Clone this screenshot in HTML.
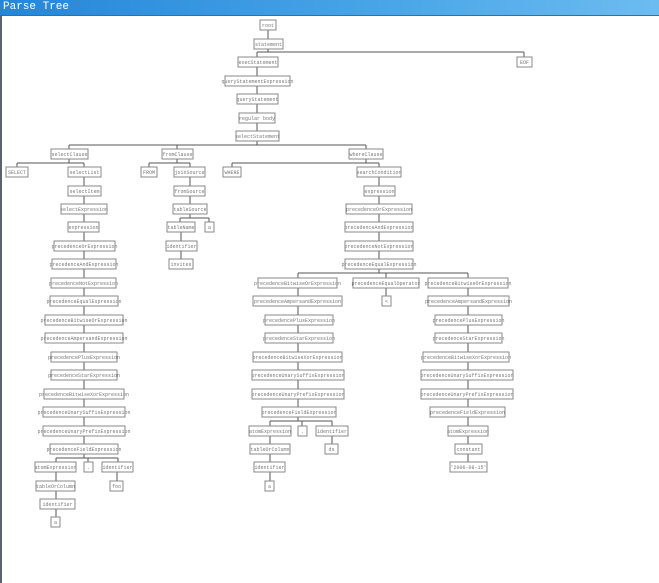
<!DOCTYPE html>
<html><head><meta charset="utf-8"><style>
html,body{margin:0;padding:0;width:659px;height:583px;overflow:hidden;background:#fff}
#t{position:absolute;left:0;top:0;width:659px;height:15px;background:linear-gradient(90deg,#2586d8,#4aa6e8 60%,#6cbcf0);border-bottom:1px solid #3a6f9a}
#t span{position:absolute;left:3px;top:1px;color:#fff;font:11px "Liberation Mono",monospace}
#lb{position:absolute;left:0;top:16px;width:2px;height:567px;background:#5a6470}
svg{position:absolute;left:0;top:0}
rect{fill:#fff;stroke:#888;stroke-width:1}
text{font-family:"Liberation Mono",monospace;font-size:5px;fill:#777;text-anchor:middle}
line{stroke:#555;stroke-width:1}
</style></head><body>
<div id="t"><span>Parse Tree</span></div><div id="lb"></div>
<svg width="659" height="583" viewBox="0 0 659 583">
<g>
<!-- edges -->
<line x1="268" y1="30" x2="268" y2="39"/>
<line x1="268" y1="49" x2="268" y2="52"/><line x1="257" y1="52" x2="524" y2="52"/><line x1="257" y1="52" x2="257" y2="57"/><line x1="524" y1="52" x2="524" y2="57"/>
<line x1="257" y1="67" x2="257" y2="76"/><line x1="257" y1="86" x2="257" y2="94"/><line x1="257" y1="104" x2="257" y2="113"/><line x1="257" y1="123" x2="257" y2="131"/>
<line x1="257" y1="141" x2="257" y2="145"/><line x1="69" y1="145" x2="366" y2="145"/><line x1="69" y1="145" x2="69" y2="149"/><line x1="177" y1="145" x2="177" y2="149"/><line x1="366" y1="145" x2="366" y2="149"/>
<line x1="69" y1="159" x2="69" y2="163"/><line x1="17" y1="163" x2="84" y2="163"/><line x1="17" y1="163" x2="17" y2="167"/><line x1="84" y1="163" x2="84" y2="167"/>
<line x1="177" y1="159" x2="177" y2="163"/><line x1="149" y1="163" x2="190" y2="163"/><line x1="149" y1="163" x2="149" y2="167"/><line x1="190" y1="163" x2="190" y2="167"/>
<line x1="366" y1="159" x2="366" y2="163"/><line x1="232" y1="163" x2="379" y2="163"/><line x1="232" y1="163" x2="232" y2="167"/><line x1="379" y1="163" x2="379" y2="167"/>
<line x1="84" y1="177" x2="84" y2="444"/>
<line x1="190" y1="177" x2="190" y2="204"/>
<line x1="190" y1="214" x2="190" y2="218"/><line x1="180" y1="218" x2="209" y2="218"/><line x1="180" y1="218" x2="180" y2="222"/><line x1="209" y1="218" x2="209" y2="222"/>
<line x1="181" y1="232" x2="181" y2="259"/>
<line x1="379" y1="177" x2="379" y2="259"/>
<line x1="379" y1="269" x2="379" y2="273"/><line x1="298" y1="273" x2="468" y2="273"/><line x1="298" y1="273" x2="298" y2="278"/><line x1="386" y1="273" x2="386" y2="278"/><line x1="468" y1="273" x2="468" y2="278"/>
<line x1="386" y1="288" x2="386" y2="296"/>
<line x1="298" y1="288" x2="298" y2="407"/>
<line x1="468" y1="288" x2="468" y2="462"/>
<line x1="298" y1="417" x2="298" y2="421"/><line x1="270" y1="421" x2="332" y2="421"/><line x1="270" y1="421" x2="270" y2="426"/><line x1="302" y1="421" x2="302" y2="426"/><line x1="332" y1="421" x2="332" y2="426"/>
<line x1="270" y1="436" x2="270" y2="481"/><line x1="332" y1="436" x2="332" y2="444"/>
<line x1="84" y1="454" x2="84" y2="458"/><line x1="56" y1="458" x2="118" y2="458"/><line x1="56" y1="458" x2="56" y2="462"/><line x1="88" y1="458" x2="88" y2="462"/><line x1="118" y1="458" x2="118" y2="462"/>
<line x1="56" y1="472" x2="56" y2="517"/><line x1="117" y1="472" x2="117" y2="481"/>
</g>
<g>
<rect x="260" y="20" width="16" height="10"/><text x="268" y="27">root</text>
<rect x="254" y="39" width="29" height="10"/><text x="268.5" y="46">statement</text>
<rect x="517" y="57" width="15" height="10"/><text x="524.5" y="64">EOF</text>
<rect x="238" y="57" width="40" height="10"/><text x="258" y="64">execStatement</text>
<rect x="225" y="76" width="65" height="10"/><text x="257.5" y="83">queryStatementExpression</text>
<rect x="237" y="94" width="41" height="10"/><text x="257.5" y="101">queryStatement</text>
<rect x="239" y="113" width="36" height="10"/><text x="257" y="120">regular body</text>
<rect x="236" y="131" width="43" height="10"/><text x="257.5" y="138">selectStatement</text>
<rect x="51" y="149" width="37" height="10"/><text x="69.5" y="156">selectClause</text>
<rect x="162" y="149" width="31" height="10"/><text x="177.5" y="156">fromClause</text>
<rect x="349" y="149" width="34" height="10"/><text x="366" y="156">whereClause</text>
<rect x="6" y="167" width="22" height="10"/><text x="17" y="174">SELECT</text>
<rect x="68" y="167" width="33" height="10"/><text x="84.5" y="174">selectList</text>
<rect x="141" y="167" width="16" height="10"/><text x="149" y="174">FROM</text>
<rect x="174" y="167" width="31" height="10"/><text x="189.5" y="174">joinSource</text>
<rect x="223" y="167" width="18" height="10"/><text x="232" y="174">WHERE</text>
<rect x="357" y="167" width="44" height="10"/><text x="379" y="174">searchCondition</text>
<rect x="68" y="186" width="33" height="10"/><text x="84.5" y="193">selectItem</text>
<rect x="174" y="186" width="31" height="10"/><text x="189.5" y="193">fromSource</text>
<rect x="364" y="186" width="31" height="10"/><text x="379.5" y="193">expression</text>
<rect x="61" y="204" width="46" height="10"/><text x="84" y="211">selectExpression</text>
<rect x="173" y="204" width="34" height="10"/><text x="190" y="211">tableSource</text>
<rect x="346" y="204" width="66" height="10"/><text x="379" y="211">precedenceOrExpression</text>
<rect x="68" y="222" width="31" height="10"/><text x="83.5" y="229">expression</text>
<rect x="167" y="222" width="28" height="10"/><text x="181" y="229">tableName</text>
<rect x="205" y="222" width="9" height="10"/><text x="209.5" y="229">a</text>
<rect x="345" y="222" width="68" height="10"/><text x="379" y="229">precedenceAndExpression</text>
<rect x="54" y="241" width="61" height="10"/><text x="84.5" y="248">precedenceOrExpression</text>
<rect x="166" y="241" width="31" height="10"/><text x="181.5" y="248">identifier</text>
<rect x="345" y="241" width="68" height="10"/><text x="379" y="248">precedenceNotExpression</text>
<rect x="52" y="259" width="64" height="10"/><text x="84" y="266">precedenceAndExpression</text>
<rect x="169" y="259" width="24" height="10"/><text x="181" y="266">invites</text>
<rect x="345" y="259" width="68" height="10"/><text x="379" y="266">precedenceEqualExpression</text>
<rect x="51" y="278" width="65" height="10"/><text x="83.5" y="285">precedenceNotExpression</text>
<rect x="258" y="278" width="79" height="10"/><text x="297.5" y="285">precedenceBitwiseOrExpression</text>
<rect x="353" y="278" width="66" height="10"/><text x="386" y="285">precedenceEqualOperator</text>
<rect x="428" y="278" width="80" height="10"/><text x="468" y="285">precedenceBitwiseOrExpression</text>
<rect x="50" y="296" width="68" height="10"/><text x="84" y="303">precedenceEqualExpression</text>
<rect x="253" y="296" width="89" height="10"/><text x="297.5" y="303">precedenceAmpersandExpression</text>
<rect x="382" y="296" width="9" height="10"/><text x="386.5" y="303">&lt;</text>
<rect x="428" y="296" width="81" height="10"/><text x="468.5" y="303">precedenceAmpersandExpression</text>
<rect x="45" y="315" width="78" height="10"/><text x="84" y="322">precedenceBitwiseOrExpression</text>
<rect x="265" y="315" width="68" height="10"/><text x="299" y="322">precedencePlusExpression</text>
<rect x="435" y="315" width="67" height="10"/><text x="468.5" y="322">precedencePlusExpression</text>
<rect x="45" y="333" width="78" height="10"/><text x="84" y="340">precedenceAmpersandExpression</text>
<rect x="265" y="333" width="68" height="10"/><text x="299" y="340">precedenceStarExpression</text>
<rect x="435" y="333" width="67" height="10"/><text x="468.5" y="340">precedenceStarExpression</text>
<rect x="51" y="352" width="66" height="10"/><text x="84" y="359">precedencePlusExpression</text>
<rect x="253" y="352" width="89" height="10"/><text x="297.5" y="359">precedenceBitwiseXorExpression</text>
<rect x="423" y="352" width="86" height="10"/><text x="466" y="359">precedenceBitwiseXorExpression</text>
<rect x="51" y="370" width="66" height="10"/><text x="84" y="377">precedenceStarExpression</text>
<rect x="252" y="370" width="92" height="10"/><text x="298" y="377">precedenceUnarySuffixExpression</text>
<rect x="421" y="370" width="92" height="10"/><text x="467" y="377">precedenceUnarySuffixExpression</text>
<rect x="44" y="389" width="80" height="10"/><text x="84" y="396">precedenceBitwiseXorExpression</text>
<rect x="252" y="389" width="92" height="10"/><text x="298" y="396">precedenceUnaryPrefixExpression</text>
<rect x="421" y="389" width="92" height="10"/><text x="467" y="396">precedenceUnaryPrefixExpression</text>
<rect x="43" y="407" width="82" height="10"/><text x="84" y="414">precedenceUnarySuffixExpression</text>
<rect x="262" y="407" width="74" height="10"/><text x="299" y="414">precedenceFieldExpression</text>
<rect x="430" y="407" width="75" height="10"/><text x="467.5" y="414">precedenceFieldExpression</text>
<rect x="43" y="426" width="82" height="10"/><text x="84" y="433">precedenceUnaryPrefixExpression</text>
<rect x="249" y="426" width="42" height="10"/><text x="270" y="433">atomExpression</text>
<rect x="298" y="426" width="9" height="10"/><text x="302.5" y="433">.</text>
<rect x="316" y="426" width="32" height="10"/><text x="332" y="433">identifier</text>
<rect x="448" y="426" width="40" height="10"/><text x="468" y="433">atomExpression</text>
<rect x="50" y="444" width="68" height="10"/><text x="84" y="451">precedenceFieldExpression</text>
<rect x="250" y="444" width="40" height="10"/><text x="270" y="451">tableOrColumn</text>
<rect x="325" y="444" width="13" height="10"/><text x="331.5" y="451">ds</text>
<rect x="455" y="444" width="27" height="10"/><text x="468.5" y="451">constant</text>
<rect x="35" y="462" width="41" height="10"/><text x="55.5" y="469">atomExpression</text>
<rect x="84" y="462" width="9" height="10"/><text x="88.5" y="469">.</text>
<rect x="102" y="462" width="31" height="10"/><text x="117.5" y="469">identifier</text>
<rect x="254" y="462" width="31" height="10"/><text x="269.5" y="469">identifier</text>
<rect x="450" y="462" width="37" height="10"/><text x="468.5" y="469">'2006-08-15'</text>
<rect x="36" y="481" width="39" height="10"/><text x="55.5" y="488">tableOrColumn</text>
<rect x="110" y="481" width="13" height="10"/><text x="116.5" y="488">foo</text>
<rect x="265" y="481" width="9" height="10"/><text x="269.5" y="488">a</text>
<rect x="40" y="499" width="35" height="10"/><text x="57.5" y="506">identifier</text>
<rect x="51" y="517" width="9" height="10"/><text x="55.5" y="524">a</text>
</g>
</svg>
</body></html>
